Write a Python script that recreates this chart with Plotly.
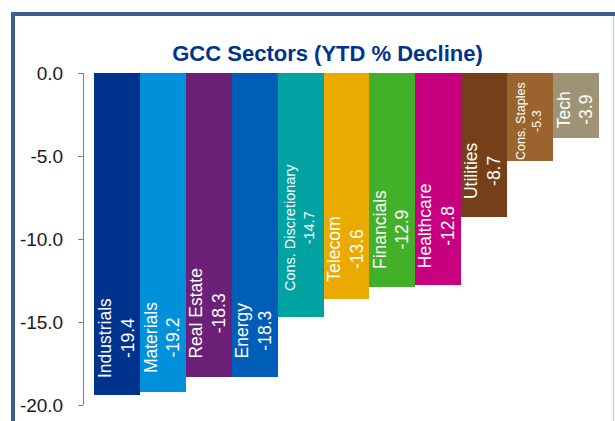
import plotly.graph_objects as go

# ---- data ----
sectors = ["Industrials", "Materials", "Real Estate", "Energy", "Cons. Discretionary",
           "Telecom", "Financials", "Healthcare", "Utilities", "Cons. Staples", "Tech"]
ytd_change = [-19.4, -19.2, -18.3, -18.3, -14.7, -13.6, -12.9, -12.8, -8.7, -5.3, -3.9]
tick_vals = [0, -5, -10, -15, -20]
tick_text = ["0.0", "-5.0", "-10.0", "-15.0", "-20.0"]
title_text = "GCC Sectors (YTD % Decline)"

# ---- styles ----
bar_colors = ["#00338D", "#0091DA", "#6D2077", "#005EB8", "#00A3A1", "#EAAA00",
              "#43B02A", "#C6007E", "#753F19", "#9B642E", "#9E9475"]
label_sizes = [17.5, 17.5, 17.5, 17.5, 14.5, 17.5, 17.5, 17.5, 17.5, 12.5, 17.5]
label_pads = [17, 19, 18, 18, 26, 17, 18, 17, 18, 1, 10]

W, H = 615, 421
L, R, T, B = 84, 613, 73, 405   # plot area pixel box
unit = 45.9                     # bar width in px
x0 = -0.5 - (94 - L) / unit
x1 = x0 + (R - L) / unit

def px(x):
    return (x - L) / (R - L)

def py(y):
    return (B - y) / (B - T)

fig = go.Figure()
fig.add_trace(go.Bar(
    x=sectors, y=ytd_change,
    marker=dict(color=bar_colors, line=dict(width=0)),
    hoverinfo="skip",
))

annotations = []
for s, v, fs, pad in zip(sectors, ytd_change, label_sizes, label_pads):
    annotations.append(dict(
        x=s, y=v, xref="x", yref="y",
        text=f"{s}<br>{v:.1f}", textangle=-90,
        xanchor="center", yanchor="bottom", yshift=pad, xshift=-1,
        showarrow=False, borderpad=0, borderwidth=0,
        font=dict(family="Liberation Sans", size=fs, color="white"),
    ))

fig.update_layout(
    width=W, height=H,
    margin=dict(l=L, r=W - R, t=T, b=H - B, pad=0),
    paper_bgcolor="white", plot_bgcolor="white",
    bargap=0, showlegend=False,
    title=dict(text=f"<b>{title_text}</b>", x=327.5 / W, xanchor="center",
               y=1 - 53 / H, yanchor="middle", xref="container", yref="container",
               font=dict(family="Liberation Sans", size=22, color="#00338D")),
    xaxis=dict(range=[x0, x1], visible=False, fixedrange=True),
    yaxis=dict(range=[-20, 0], tickvals=tick_vals, ticktext=tick_text,
               showline=True, linecolor="#7F7F7F", linewidth=1,
               ticks="outside", ticklen=5, tickcolor="#7F7F7F", tickwidth=1,
               showgrid=False, zeroline=False, ticklabelstandoff=11,
               tickfont=dict(family="Liberation Sans", size=19, color="#1A1A1A")),
    annotations=annotations,
    shapes=[
        dict(type="rect", xref="paper", yref="paper",
             x0=px(13), x1=px(660), y0=py(460), y1=py(14),
             line=dict(color="#3E6091", width=4), fillcolor="rgba(0,0,0,0)", layer="below"),
        dict(type="line", xref="paper", yref="paper",
             x0=px(613.5), x1=px(613.5), y0=py(16), y1=py(425),
             line=dict(color="#C9D2DE", width=1.5)),
    ],
)

fig.write_html("out.html")
